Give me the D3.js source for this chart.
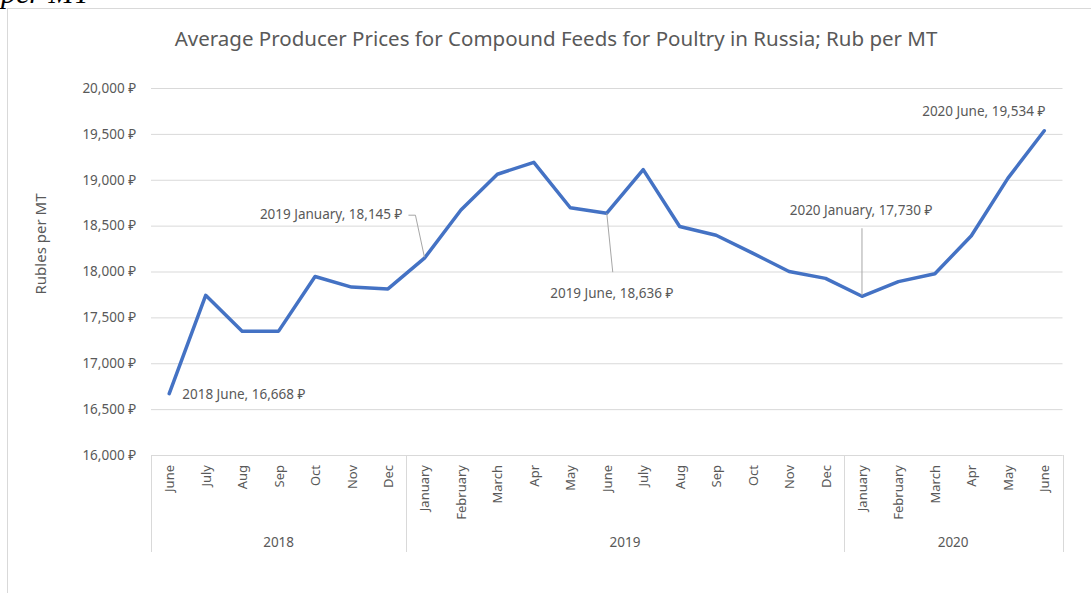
<!DOCTYPE html>
<html>
<head>
<meta charset="utf-8">
<script src="https://cdn.jsdelivr.net/npm/d3@7"></script>
<style>
  body { margin: 0; background: #fff; }
  text { font-family: "Noto Sans", "DejaVu Sans", sans-serif; fill: #595959; }
</style>
</head>
<body>
<div class="container"></div>
<script>
// monthly prices, June 2018 - June 2020
let months = ["June", "July", "Aug", "Sep", "Oct", "Nov", "Dec",
  "January", "February", "March", "Apr", "May", "June", "July", "Aug", "Sep", "Oct", "Nov", "Dec",
  "January", "February", "March", "Apr", "May", "June"]
let years = ["2018", "2019", "2020"]
let yearOf = [0, 0, 0, 0, 0, 0, 0,
  1, 1, 1, 1, 1, 1, 1, 1, 1, 1, 1, 1,
  2, 2, 2, 2, 2, 2]
let prices = [16668, 17740, 17350, 17350, 17945, 17830, 17810,
  18145, 18670, 19060, 19190, 18695, 18636, 19110, 18490, 18395, 18200, 18000, 17925,
  17730, 17890, 17975, 18390, 19015, 19534]
let yTicks = [16000, 16500, 17000, 17500, 18000, 18500, 19000, 19500, 20000]
let labelled = [0, 7, 12, 19, 24]

let width = 1091
let height = 593
let fmt = d3.format(",")

let svg = d3.select(".container")
  .append("svg")
  .attr("width", width)
  .attr("height", height)

// chart frame
svg.append("rect")
  .attr("x", 7.5)
  .attr("y", 8.5)
  .attr("width", width)
  .attr("height", height)
  .attr("fill", "none")
  .attr("stroke", "#d9d9d9")

// cut off caption text from the page above
svg.append("text")
  .attr("x", 1)
  .attr("y", 3)
  .text("per MT")
  .style("font-family", "'Liberation Serif', serif")
  .style("font-style", "italic")
  .style("font-size", "30px")
  .style("fill", "#000")

let x = d3.scaleBand()
  .domain(d3.range(months.length))
  .range([151, 1062.5])

let y = d3.scaleLinear()
  .domain([16000, 20000])
  .range([455, 88])

let cx = function (i) { return x(i) + x.bandwidth() / 2 }

// gridlines + y labels
let yAxis = d3.axisLeft(y)
  .tickValues(yTicks)
  .tickSize(-(1062.5 - 151))
  .tickPadding(15)
  .tickFormat(function (d) { return fmt(d) + " ₽" })

svg.append("g")
  .attr("transform", "translate(151,0)")
  .call(yAxis)
  .call(function (g) {
    g.select(".domain").remove()
    g.selectAll(".tick line").attr("stroke", "#d9d9d9")
    g.selectAll(".tick text")
      .style("font-size", "13.5px")
      .attr("fill", "#595959")
  })

svg.append("text")
  .attr("transform", "translate(46,244) rotate(-90)")
  .attr("text-anchor", "middle")
  .style("font-size", "15px")
  .text("Rubles per MT")

// category axis
svg.append("line")
  .attr("x1", 151).attr("x2", 1062.5)
  .attr("y1", 455.5).attr("y2", 455.5)
  .attr("stroke", "#d9d9d9")

svg.selectAll(".monthText")
  .data(months)
  .enter()
  .append("text")
  .attr("class", "monthText")
  .attr("transform", function (d, i) { return "translate(" + (cx(i) + 5) + ",465) rotate(-90)" })
  .attr("text-anchor", "end")
  .style("font-size", "13px")
  .text(function (d) { return d })

let groups = years.map(function (yr, k) {
  let idx = d3.range(months.length).filter(function (i) { return yearOf[i] === k })
  return { year: yr, first: idx[0], last: idx[idx.length - 1] }
})

let bounds = groups.map(function (g) { return x(g.first) }).concat([x(months.length - 1) + x.bandwidth()])
svg.selectAll(".groupLine")
  .data(bounds)
  .enter()
  .append("line")
  .attr("class", "groupLine")
  .attr("x1", function (d) { return Math.round(d) + 0.5 })
  .attr("x2", function (d) { return Math.round(d) + 0.5 })
  .attr("y1", 455)
  .attr("y2", 552)
  .attr("stroke", "#d9d9d9")

svg.selectAll(".yearText")
  .data(groups)
  .enter()
  .append("text")
  .attr("class", "yearText")
  .attr("x", function (d) { return (x(d.first) + x(d.last) + x.bandwidth()) / 2 })
  .attr("y", 547)
  .attr("text-anchor", "middle")
  .style("font-size", "13.5px")
  .text(function (d) { return d.year })

// title
svg.append("text")
  .attr("x", 556)
  .attr("y", 46)
  .attr("text-anchor", "middle")
  .style("font-size", "20.5px")
  .text("Average Producer Prices for Compound Feeds for Poultry in Russia; Rub per MT")

// price line
let line = d3.line()
  .x(function (d, i) { return cx(i) })
  .y(function (d) { return y(d) })

svg.append("path")
  .datum(prices)
  .attr("d", line)
  .attr("fill", "none")
  .attr("stroke", "#4472c4")
  .attr("stroke-width", 3.5)
  .attr("stroke-linejoin", "round")
  .attr("stroke-linecap", "round")

// data labels: offsets from the point, leader path if any
let labelPos = {
  0: { dx: 13, dy: 5, anchor: "start" },
  7: { dx: -22, dy: -39, anchor: "end", leader: [[-16, -43], [-9, -43], [0, -1]] },
  12: { dx: 5, dy: 85, anchor: "middle", leader: [[0, 0], [6, 59]] },
  19: { dx: -1, dy: -81, anchor: "middle", leader: [[0, -68], [0, -1]] },
  24: { dx: 1, dy: -15, anchor: "end" }
}

labelled.forEach(function (i) {
  let p = labelPos[i]
  let px = cx(i), py = y(prices[i])
  if (p.leader) {
    svg.append("path")
      .attr("d", d3.line()(p.leader.map(function (o) { return [px + o[0], py + o[1]] })))
      .attr("fill", "none")
      .attr("stroke", "#a6a6a6")
      .attr("stroke-width", 1)
  }
  let name = (2018 + yearOf[i]) + " " + months[i]
  svg.append("text")
    .attr("x", px + p.dx)
    .attr("y", py + p.dy)
    .attr("text-anchor", p.anchor)
    .style("font-size", "13.5px")
    .text(name + ", " + fmt(prices[i]) + " ₽")
})
</script>
</body>
</html>
